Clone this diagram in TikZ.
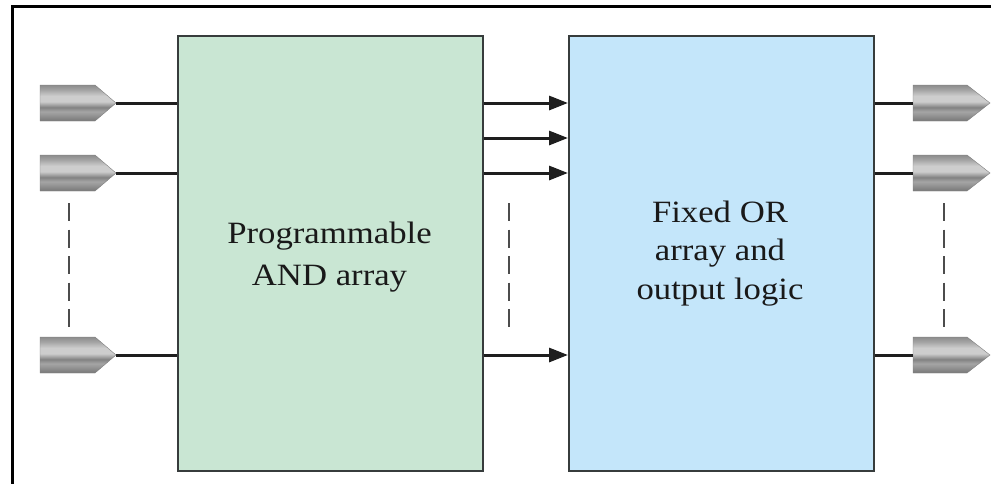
\documentclass[tikz,border=0pt]{standalone}
\usepackage{fontspec}
\setmainfont{Liberation Serif}
\newfontfamily\boxfont[FakeStretch=1.12]{Liberation Serif}
\usetikzlibrary{arrows.meta}
\definecolor{andgreen}{RGB}{201,230,211}
\definecolor{orblue}{RGB}{196,230,250}
\definecolor{wirecol}{RGB}{30,30,30}
\definecolor{boxedge}{RGB}{55,60,60}
\definecolor{pinA}{RGB}{95,95,95}
\definecolor{pinB}{RGB}{130,130,130}
\definecolor{pinC}{RGB}{205,205,205}
\definecolor{pinD}{RGB}{165,165,165}
\pgfdeclareverticalshading{pinshade}{100bp}{color(0bp)=(pinA); color(15bp)=(pinA); color(28bp)=(pinB); color(38bp)=(pinD); color(44bp)=(pinB); color(52bp)=(pinC); color(60bp)=(pinC); color(68bp)=(pinD); color(78bp)=(pinB); color(88bp)=(pinA); color(100bp)=(pinA)}
\tikzset{
  wire/.style={draw=wirecol, line width=3pt},
  arr/.style={draw=wirecol, line width=3pt, -{Triangle[length=19pt,width=14pt]}},
  dots/.style={draw=black!70, line width=2pt, dash pattern=on 18pt off 8.5pt},
  blockbox/.style={draw=boxedge, line width=1.5pt, minimum width=305pt, minimum height=435pt, inner sep=0pt},
  blocktext/.style={align=center, inner sep=0pt, text=black!90},
  inpin/.pic={
    \shade[shading=pinshade, draw=pinA!80, line width=0.4pt] (-76,-18) -- (-21,-18) -- (0,0) -- (-21,18) -- (-76,18) -- cycle;
    \coordinate (-tip) at (0,0);
  },
  outpin/.pic={
    \shade[shading=pinshade, draw=pinA!80, line width=0.4pt] (0,-18) -- (54,-18) -- (77,0) -- (54,18) -- (0,18) -- cycle;
    \coordinate (-base) at (0,0);
  }
}
\begin{document}
\begin{tikzpicture}[x=1pt, y=-1pt]
\useasboundingbox (0,0) rectangle (991,483);
% frame
\draw[line width=3pt] (12.5,490) -- (12.5,6.5) -- (995,6.5);
% blocks
\node[blockbox, fill=andgreen, anchor=north west] (g) at (177,35) {};
\node[blockbox, fill=orblue, anchor=north west] (b) at (568,35) {};
\node[blocktext, font=\boxfont\fontsize{31}{42}\selectfont] (gt) at (329.5,257) {Programmable\\AND array};
\node[blocktext, font=\boxfont\fontsize{31}{38.5}\selectfont] (bt) at (720,253.5) {Fixed OR\\array and\\output logic};
% input pins
\pic (i1) at (116,103) {inpin};
\pic (i2) at (116,173) {inpin};
\pic (i3) at (116,355) {inpin};
% output pins
\pic (o1) at (913,103) {outpin};
\pic (o2) at (913,173) {outpin};
\pic (o3) at (913,355) {outpin};
% input wires
\foreach \k in {1,2,3} \draw[wire] (i\k-tip) -- (g.west |- i\k-tip);
% output wires
\foreach \k in {1,2,3} \draw[wire] (b.east |- o\k-base) -- (o\k-base);
% internal arrows
\coordinate (m1) at (0,103);
\coordinate (m2) at (0,138);
\coordinate (m3) at (0,173);
\coordinate (m4) at (0,355);
\foreach \k in {1,2,3,4} \draw[arr] (g.east |- m\k) -- (b.west |- m\k);
% dashed continuation marks
\coordinate (d1a) at (69,203);  \coordinate (d1b) at (69,327);
\coordinate (d2a) at (509,203); \coordinate (d2b) at (509,327);
\coordinate (d3a) at (944,203); \coordinate (d3b) at (944,327);
\draw[dots] (d1a) -- (d1b);
\draw[dots] (d2a) -- (d2b);
\draw[dots] (d3a) -- (d3b);
\end{tikzpicture}
\end{document}
